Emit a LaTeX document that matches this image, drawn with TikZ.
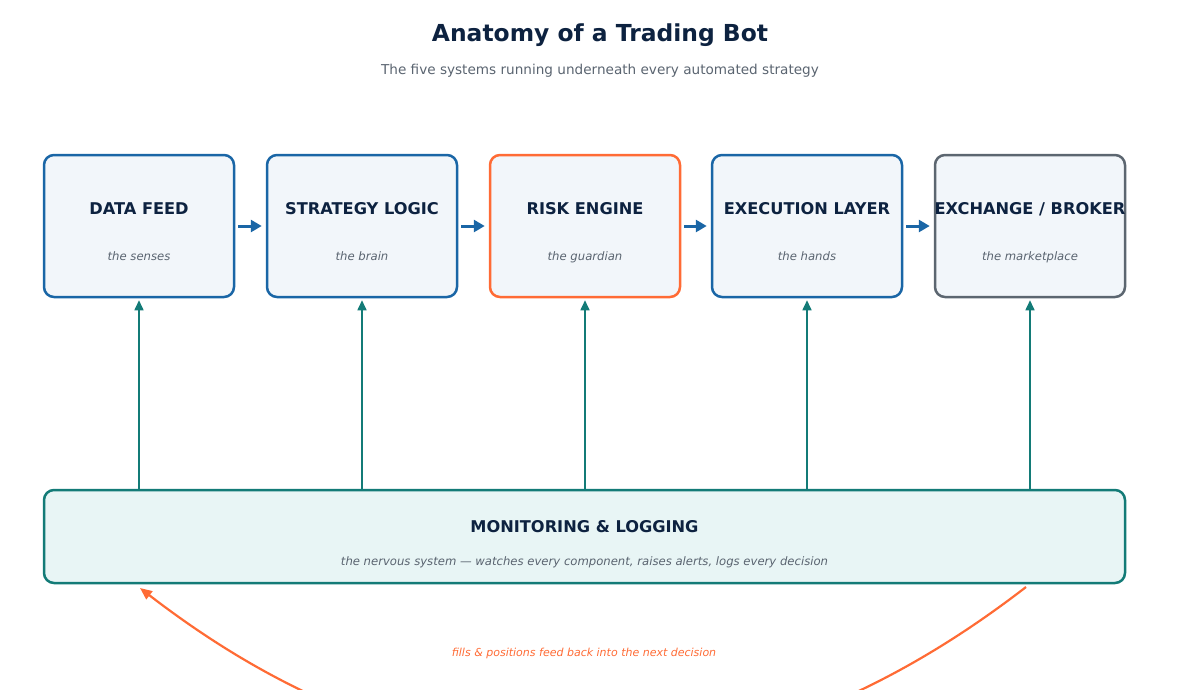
\documentclass[tikz,border=0pt]{standalone}
\usepackage{fontspec}
\setmainfont{DejaVu Sans}
\usetikzlibrary{arrows.meta}
\definecolor{navy}{HTML}{0D2240}
\definecolor{cblue}{HTML}{1A66A6}
\definecolor{corange}{HTML}{FF6B35}
\definecolor{cgray}{HTML}{5C6670}
\definecolor{cteal}{HTML}{137B77}
\definecolor{boxfill}{HTML}{F2F6FA}
\definecolor{monfill}{HTML}{E8F5F5}
\definecolor{subtxt}{HTML}{5A6470}
\tikzset{
  stagebox/.style={rectangle, rounded corners=10pt, minimum width=190pt, minimum height=142pt, line width=2.5pt, fill=boxfill, inner sep=0pt},
  stagetitle/.style={font=\fontsize{16.2}{19}\selectfont\bfseries, text=navy, inner sep=0pt, text height=11.8pt, text depth=0pt},
  stagesub/.style={font=\fontsize{11.65}{14}\selectfont\itshape, text=subtxt, inner sep=0pt, text height=8.6pt, text depth=0pt},
  flow/.style={draw=cblue, line width=3pt, -{Triangle[length=11pt,width=12pt]}, shorten <=3pt, shorten >=4pt},
  mon/.style={draw=cteal, line width=1.6pt, -{Triangle[length=10pt,width=9pt]}, shorten >=2pt},
  fb/.style={draw=corange, line width=2.2pt, -{Triangle[length=12pt,width=10pt]}}
}
\begin{document}
\begin{tikzpicture}[x=1pt,y=-1pt]
\useasboundingbox (0,0) rectangle (1200,689);
\clip (0,0) rectangle (1200,689);
\node[font=\fontsize{23.4}{28}\selectfont\bfseries, text=navy, text height=17pt, text depth=0pt, inner sep=0pt] (title) at (600,33) {Anatomy of a Trading Bot};
\node[font=\fontsize{13.6}{16}\selectfont, text=subtxt, text height=10pt, text depth=0pt, inner sep=0pt] (subtitle) at (600,69) {The five systems running underneath every automated strategy};

\node[stagebox, draw=cblue] (feed) at (139,226) {};
\node[stagebox, draw=cblue] (strat) at (362,226) {};
\node[stagebox, draw=corange] (risk) at (585,226) {};
\node[stagebox, draw=cblue] (exec) at (807,226) {};
\node[stagebox, draw=cgray] (exch) at (1030,226) {};

\node[stagetitle] (feedT) at (139,209) {DATA FEED};
\node[stagesub] (feedS) at (139,256) {the senses};
\node[stagetitle] (stratT) at (362,209) {STRATEGY LOGIC};
\node[stagesub] (stratS) at (362,256) {the brain};
\node[stagetitle] (riskT) at (585,209) {RISK ENGINE};
\node[stagesub] (riskS) at (585,256) {the guardian};
\node[stagetitle] (execT) at (807,209) {EXECUTION LAYER};
\node[stagesub] (execS) at (807,256) {the hands};
\node[stagetitle] (exchT) at (1030,209) {EXCHANGE / BROKER};
\node[stagesub] (exchS) at (1030,256) {the marketplace};

\draw[flow] (feed.east) -- (strat.west);
\draw[flow] (strat.east) -- (risk.west);
\draw[flow] (risk.east) -- (exec.west);
\draw[flow] (exec.east) -- (exch.west);

\node[rectangle, rounded corners=10pt, minimum width=1081pt, minimum height=93pt, line width=2.5pt, draw=cteal, fill=monfill, inner sep=0pt] (monitor) at (584.5,536.5) {};
\node[stagetitle] (monT) at (584.5,527) {MONITORING \& LOGGING};
\node[stagesub] (monS) at (584.5,561) {the nervous system — watches every component, raises alerts, logs every decision};

\foreach \n in {feed,strat,risk,exec,exch}{
  \draw[mon] (monitor.north -| \n.south) -- (\n.south);
}

\coordinate (fbA) at (1026,587);
\coordinate (fbB) at (140,588);
\draw[fb] (fbA) .. controls (735,812) and (430,812) .. (fbB);
\node[font=\fontsize{11}{13}\selectfont\itshape, text=corange] (fbL) at (584,653) {fills \& positions feed back into the next decision};
\end{tikzpicture}
\end{document}
